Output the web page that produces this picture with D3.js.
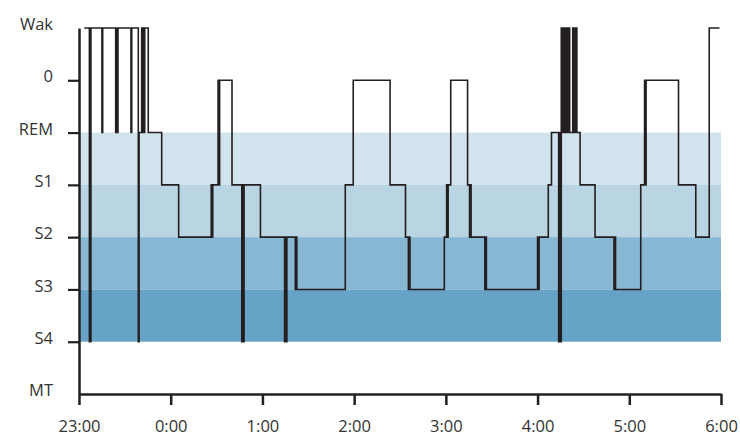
<!DOCTYPE html>
<html>
<head>
<meta charset="utf-8">
<script src="https://cdn.jsdelivr.net/npm/d3@7"></script>
<style>
  html, body { margin: 0; padding: 0; background: #fff; }
  svg { display: block; }
</style>
</head>
<body>
<svg id="chart" width="740" height="440"></svg>
<script>
// ---- data ----
const stageLabels = ["Wak", "0", "REM", "S1", "S2", "S3", "S4", "MT"];
const tickedStages = ["0", "REM", "S1", "S2", "S3", "S4"];
const timeTicks = [0, 60, 120, 180, 240, 300, 360, 420]; // minutes after 23:00
const timeLabels = ["23:00", "0:00", "1:00", "2:00", "3:00", "4:00", "5:00", "6:00"];
const bandFrom = ["REM", "S1", "S2", "S3"];
const bandTo = ["S1", "S2", "S3", "S4"];
const bandColors = ["#d1e3ec", "#b9d5e3", "#87b7d3", "#67a3c6"];

// epochs: [minutes after 23:00, stage]
const hypnogram = [
  [3.5, "Wak"],
  [6.8, "S4"], [7.8, "Wak"],
  [15.0, "REM"], [15.5, "Wak"],
  [24.0, "REM"], [24.5, "Wak"], [25.0, "REM"], [25.5, "Wak"],
  [34.0, "REM"], [34.5, "Wak"],
  [38.8, "S4"], [39.3, "REM"],
  [41.0, "Wak"], [41.5, "REM"], [42.0, "Wak"], [42.5, "REM"], [43.0, "Wak"],
  [45.3, "REM"],
  [54.1, "S1"],
  [65.2, "S2"],
  [86.5, "S1"], [87.0, "S2"], [87.5, "S1"],
  [91.0, "0"], [91.5, "S1"], [92.0, "0"],
  [100.1, "S1"],
  [106.5, "S4"], [107.0, "S1"], [107.5, "S4"], [108.0, "S1"],
  [118.7, "S2"],
  [134.5, "S4"], [135.0, "S2"], [135.5, "S4"], [136.0, "S2"],
  [141.5, "S3"], [142.0, "S2"], [142.5, "S3"],
  [174.2, "S1"],
  [179.4, "0"],
  [203.5, "S1"],
  [213.6, "S2"],
  [215.5, "S3"], [216.0, "S2"], [216.5, "S3"],
  [239.0, "S2"],
  [240.5, "S1"], [241.0, "S2"], [241.5, "S1"],
  [243.2, "0"],
  [254.2, "S1"],
  [255.5, "S2"], [256.0, "S1"], [256.5, "S2"],
  [265.5, "S3"], [266.0, "S2"], [266.5, "S3"],
  [300.0, "S2"], [300.5, "S3"], [301.0, "S2"],
  [307.0, "S1"],
  [309.1, "REM"],
  [313.8, "S4"], [314.3, "REM"], [314.8, "S4"], [315.5, "Wak"],
  [316.0, "REM"], [316.5, "Wak"], [317.0, "REM"], [317.5, "Wak"],
  [318.0, "REM"], [318.5, "Wak"], [319.0, "REM"], [319.5, "Wak"],
  [320.0, "REM"], [320.5, "Wak"], [321.0, "REM"],
  [323.0, "Wak"], [323.5, "REM"], [324.0, "Wak"], [324.5, "REM"], [325.0, "Wak"], [325.7, "REM"],
  [327.8, "S1"],
  [337.6, "S2"],
  [350.0, "S3"], [350.5, "S2"], [351.0, "S3"],
  [367.5, "S1"],
  [370.0, "0"], [370.5, "S1"], [371.0, "0"],
  [392.2, "S1"],
  [403.5, "S2"],
  [412.3, "Wak"],
  [419.0, "Wak"]
];

// ---- drawing ----
const svg = d3.select("#chart");
const x = d3.scaleLinear().domain([0, 420]).range([79, 721]);
const y = d3.scalePoint().domain(stageLabels).range([28, 394]);
const ink = "#231f20";
const font = "'Open Sans', 'Noto Sans', sans-serif";

// bands
svg.append("g").selectAll("rect")
  .data(bandFrom.map((f, i) => ({ from: f, to: bandTo[i], color: bandColors[i] })))
  .join("rect")
  .attr("x", x(0))
  .attr("width", x(420) - x(0))
  .attr("y", d => y(d.from))
  .attr("height", d => y(d.to) - y(d.from))
  .attr("fill", d => d.color);

// hypnogram line
const line = d3.line()
  .curve(d3.curveStepAfter)
  .x(d => x(d[0]))
  .y(d => y(d[1]));

svg.append("path")
  .datum(hypnogram)
  .attr("d", line)
  .attr("fill", "none")
  .attr("stroke", ink)
  .attr("stroke-width", 1.6)
  .attr("stroke-linejoin", "miter");

// x axis
const xAxis = svg.append("g")
  .attr("transform", `translate(0,${y("MT")})`)
  .call(d3.axisBottom(x)
    .tickValues(timeTicks)
    .tickFormat((d, i) => timeLabels[i])
    .tickSize(11)
    .tickSizeOuter(0)
    .tickPadding(15));
xAxis.select(".domain").attr("stroke", ink).attr("stroke-width", 2.5);
xAxis.selectAll(".tick line").attr("stroke", ink).attr("stroke-width", 2.5);
xAxis.selectAll(".tick text")
  .attr("font-family", font).attr("font-size", 16.5).attr("fill", "#333");

// y axis
const yAxis = svg.append("g")
  .attr("transform", `translate(${x(0)},0)`)
  .call(d3.axisLeft(y)
    .tickSize(11)
    .tickSizeOuter(0)
    .tickPadding(15));
yAxis.select(".domain").attr("stroke", ink).attr("stroke-width", 2.5);
yAxis.selectAll(".tick line")
  .attr("stroke", ink).attr("stroke-width", 2.2)
  .attr("opacity", d => tickedStages.includes(d) ? 1 : 0);
yAxis.selectAll(".tick text")
  .attr("font-family", font).attr("font-size", 16.5).attr("fill", "#333")
  .attr("dy", "0.1em");
</script>
</body>
</html>
